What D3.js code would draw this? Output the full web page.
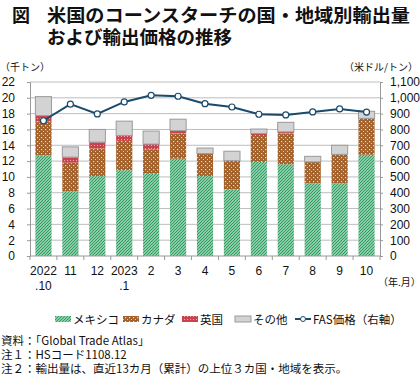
<!DOCTYPE html>
<html>
<head>
<meta charset="utf-8">
<script src="https://cdn.jsdelivr.net/npm/d3@7"></script>
<style>
  body { margin: 0; background: #fff; }
  svg text { font-family: "Liberation Sans", "Noto Sans CJK JP", sans-serif; fill: #111; }
  .jp { font-family: "Noto Sans CJK JP", sans-serif; }
</style>
</head>
<body>
<div id="chart"></div>
<script>
const months = ["2022\n.10", "11", "12", "2023\n.1", "2", "3", "4", "5", "6", "7", "8", "9", "10"];
const mexico = [12.7, 8.2, 10.1, 10.85, 10.4, 12.3, 10.1, 8.4, 11.9, 11.6, 9.2, 9.2, 12.8];
const canada = [4.3, 3.6, 3.5, 3.7, 3.1, 3.2, 2.8, 3.65, 3.4, 3.9, 2.7, 3.65, 4.6];
const uk = [0.75, 0.7, 0.8, 0.7, 0.65, 0.35, 0.05, 0, 0.2, 0.2, 0, 0, 0];
const other = [2.4, 1.3, 1.6, 1.8, 1.65, 1.45, 0.7, 1.2, 0.55, 1.2, 0.7, 1.15, 0.9];
const fasPrice = [855, 960, 898, 974, 1016, 1010, 963, 942, 896, 892, 911, 930, 910];
const leftTicks = d3.range(0, 23, 2);
const rightTicks = d3.range(0, 1101, 100);

const W = 420, H = 375;
const plot = {left: 30, right: 380, top: 82, bottom: 256};

const svg = d3.select("#chart").append("svg")
  .attr("width", W).attr("height", H);

const defs = svg.append("defs");

// hatch patterns
const pMex = defs.append("pattern").attr("id", "p-mex")
  .attr("patternUnits", "userSpaceOnUse").attr("width", 3).attr("height", 3);
pMex.append("rect").attr("width", 3).attr("height", 3).attr("fill", "#d6f0df");
pMex.append("path").attr("d", "M-1,1 L1,-1 M0,3 L3,0 M2,4 L4,2")
  .attr("stroke", "#2f9e62").attr("stroke-width", 1.3);

const pCan = defs.append("pattern").attr("id", "p-can")
  .attr("patternUnits", "userSpaceOnUse").attr("width", 4).attr("height", 4);
pCan.append("rect").attr("width", 4).attr("height", 4).attr("fill", "#a4612a");
pCan.append("rect").attr("x", 1).attr("y", 1).attr("width", 1.2).attr("height", 1.2).attr("fill", "#f3dcc0");
pCan.append("rect").attr("x", 3).attr("y", 3).attr("width", 1).attr("height", 1).attr("fill", "#e8c8a0");

const pUk = defs.append("pattern").attr("id", "p-uk")
  .attr("patternUnits", "userSpaceOnUse").attr("width", 3).attr("height", 3);
pUk.append("rect").attr("width", 3).attr("height", 3).attr("fill", "#c9424e");
pUk.append("rect").attr("x", 1).attr("y", 1).attr("width", 1).attr("height", 1).attr("fill", "#f1a9b0");

const series = [
  {key: "mex", name: "メキシコ", values: mexico, fill: "url(#p-mex)", stroke: "none"},
  {key: "can", name: "カナダ", values: canada, fill: "url(#p-can)", stroke: "none"},
  {key: "uk", name: "英国", values: uk, fill: "url(#p-uk)", stroke: "none"},
  {key: "oth", name: "その他", values: other, fill: "#d3d3d3", stroke: "#9a9a9a"}
];

const table = months.map((m, i) => {
  const row = {month: m, i: i};
  series.forEach(s => row[s.key] = s.values[i]);
  return row;
});

const x = d3.scaleBand().domain(d3.range(months.length))
  .range([plot.left, plot.right]).paddingInner(0.4).paddingOuter(0.2);
const yL = d3.scaleLinear().domain([0, 22]).range([plot.bottom, plot.top]);
const yR = d3.scaleLinear().domain([0, 1100]).range([plot.bottom, plot.top]);

// gridlines
svg.append("g")
  .selectAll("line")
  .data(leftTicks.filter(d => d > 0))
  .join("line")
  .attr("x1", plot.left).attr("x2", plot.right)
  .attr("y1", d => yL(d)).attr("y2", d => yL(d))
  .attr("stroke", "#bdbdbd").attr("stroke-width", 1);

// stacked bars
const stack = d3.stack().keys(series.map(s => s.key))(table);
svg.append("g")
  .selectAll("g")
  .data(stack)
  .join("g")
  .attr("fill", (d, k) => series[k].fill)
  .attr("stroke", (d, k) => series[k].stroke)
  .selectAll("rect")
  .data(d => d.filter(v => v[1] - v[0] > 0))
  .join("rect")
  .attr("x", d => x(d.data.i))
  .attr("width", x.bandwidth())
  .attr("y", d => yL(d[1]))
  .attr("height", d => yL(d[0]) - yL(d[1]));

// axes
const axL = svg.append("g")
  .attr("transform", `translate(${plot.left},0)`)
  .call(d3.axisLeft(yL).tickValues(leftTicks).tickSize(3).tickPadding(12));
const axR = svg.append("g")
  .attr("transform", `translate(${plot.right},0)`)
  .call(d3.axisRight(yR).tickValues(rightTicks).tickSize(3).tickPadding(7)
    .tickFormat(d3.format(",")));
[axL, axR].forEach(a => {
  a.select(".domain").attr("stroke", "#999");
  a.selectAll(".tick line").attr("stroke", "#999");
  a.selectAll("text").attr("font-size", 12).attr("fill", "#111");
});

// x axis baseline and ticks between bands
svg.append("line")
  .attr("x1", plot.left).attr("x2", plot.right)
  .attr("y1", plot.bottom).attr("y2", plot.bottom)
  .attr("stroke", "#999");
const step = x.step();
svg.append("g").selectAll("line")
  .data(d3.range(months.length + 1))
  .join("line")
  .attr("x1", d => plot.left + d * (plot.right - plot.left) / months.length)
  .attr("x2", d => plot.left + d * (plot.right - plot.left) / months.length)
  .attr("y1", plot.bottom).attr("y2", plot.bottom + 4)
  .attr("stroke", "#999");

const xl = svg.append("g").selectAll("text")
  .data(months)
  .join("text")
  .attr("x", (d, i) => x(i) + x.bandwidth() / 2)
  .attr("y", 275)
  .attr("text-anchor", "middle")
  .attr("font-size", 12);
xl.each(function(d) {
  const parts = d.split("\n");
  const t = d3.select(this);
  parts.forEach((p, j) => t.append("tspan")
    .attr("x", t.attr("x")).attr("dy", j ? 15 : 0).text(p));
});

// FAS price line
const line = d3.line()
  .x((d, i) => x(i) + x.bandwidth() / 2)
  .y(d => yR(d));
svg.append("path")
  .datum(fasPrice)
  .attr("d", line)
  .attr("fill", "none")
  .attr("stroke", "#1b4a6b")
  .attr("stroke-width", 2);
svg.append("g").selectAll("circle")
  .data(fasPrice)
  .join("circle")
  .attr("cx", (d, i) => x(i) + x.bandwidth() / 2)
  .attr("cy", d => yR(d))
  .attr("r", 3)
  .attr("fill", "#fff")
  .attr("stroke", "#1b4a6b")
  .attr("stroke-width", 1.2);

// title
svg.append("text").attr("class", "jp")
  .attr("x", 12).attr("y", 22)
  .attr("font-size", 18).attr("font-weight", "bold")
  .text("図");
svg.append("text").attr("class", "jp")
  .attr("x", 47).attr("y", 22)
  .attr("font-size", 18.5).attr("font-weight", "bold")
  .attr("textLength", 363).attr("lengthAdjust", "spacingAndGlyphs")
  .text("米国のコーンスターチの国・地域別輸出量");
svg.append("text").attr("class", "jp")
  .attr("x", 47).attr("y", 44)
  .attr("font-size", 18.5).attr("font-weight", "bold")
  .text("および輸出価格の推移");

// unit labels
svg.append("text").attr("class", "jp")
  .attr("x", 0).attr("y", 71).attr("font-size", 10)
  .text("（千トン）");
svg.append("text").attr("class", "jp")
  .attr("x", 418).attr("y", 71).attr("font-size", 10)
  .attr("text-anchor", "end")
  .text("（米ドル/トン）");
svg.append("text").attr("class", "jp")
  .attr("x", 378).attr("y", 286).attr("font-size", 10)
  .text("（年.月）");

// legend
const legend = svg.append("g").attr("class", "legend");
const legendX = [55, 123, 182, 235];
series.forEach((s, k) => {
  legend.append("rect")
    .attr("x", legendX[k]).attr("y", 316)
    .attr("width", 16).attr("height", 6)
    .attr("fill", s.fill).attr("stroke", s.stroke);
  legend.append("text").attr("class", "jp")
    .attr("x", legendX[k] + 18).attr("y", 323.5)
    .attr("font-size", 11.5)
    .text(s.name);
});
legend.append("line")
  .attr("x1", 295).attr("x2", 311).attr("y1", 319).attr("y2", 319)
  .attr("stroke", "#1b4a6b").attr("stroke-width", 2);
legend.append("circle")
  .attr("cx", 303).attr("cy", 319).attr("r", 2.5)
  .attr("fill", "#fff").attr("stroke", "#1b4a6b");
legend.append("text").attr("class", "jp")
  .attr("x", 313).attr("y", 323.5).attr("font-size", 11.5)
  .text("FAS価格（右軸）");

// notes
const notes = [
  "資料：「Global Trade Atlas」",
  "注１：HSコード1108.12",
  "注２：輸出量は、直近13カ月（累計）の上位３カ国・地域を表示。"
];
svg.append("g").selectAll("text")
  .data(notes)
  .join("text")
  .attr("class", "jp")
  .attr("x", 1)
  .attr("y", (d, i) => 345 + i * 14)
  .attr("font-size", 11.5)
  .text(d => d);
</script>
</body>
</html>
